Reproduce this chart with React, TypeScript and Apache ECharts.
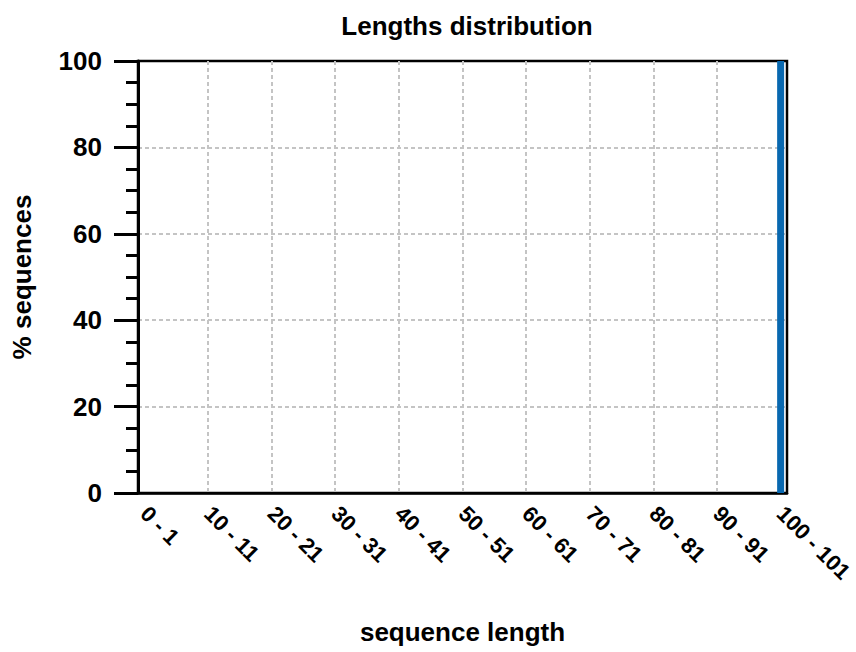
import React, { useEffect, useRef } from "react";
import * as echarts from "echarts";

const categories: string[] = Array.from({ length: 101 }, (_, i) => `${i} - ${i + 1}`);
const percentValues: number[] = [
  0, 0, 0, 0, 0, 0, 0, 0, 0, 0,
  0, 0, 0, 0, 0, 0, 0, 0, 0, 0,
  0, 0, 0, 0, 0, 0, 0, 0, 0, 0,
  0, 0, 0, 0, 0, 0, 0, 0, 0, 0,
  0, 0, 0, 0, 0, 0, 0, 0, 0, 0,
  0, 0, 0, 0, 0, 0, 0, 0, 0, 0,
  0, 0, 0, 0, 0, 0, 0, 0, 0, 0,
  0, 0, 0, 0, 0, 0, 0, 0, 0, 0,
  0, 0, 0, 0, 0, 0, 0, 0, 0, 0,
  0, 0, 0, 0, 0, 0, 0, 0, 0, 0,
  100,
];
const xTickIndices: number[] = [0, 10, 20, 30, 40, 50, 60, 70, 80, 90, 100];
const yTicks: number[] = [0, 20, 40, 60, 80, 100];

const FONT = "'Liberation Sans', Arial, Helvetica, sans-serif";

export default function App() {
  const ref = useRef<HTMLDivElement>(null);
  useEffect(() => {
    if (!ref.current) return;
    const chart = echarts.init(ref.current, null, { renderer: "svg" });
    const dashed = { color: "#c4c4c4", width: 2, type: [4, 3] as number[] };
    chart.setOption({
      animation: false,
      backgroundColor: "#ffffff",
      title: {
        text: "Lengths distribution",
        left: 462,
        textAlign: "center",
        top: 8,
        textStyle: { fontFamily: FONT, fontWeight: "bold", fontSize: 26, color: "#000" },
      },
      grid: {
        left: 138,
        right: 69,
        top: 61,
        bottom: 159,
        containLabel: false,
        outerBoundsMode: "none",
        show: true,
        borderColor: "#000",
        borderWidth: 2.5,
        backgroundColor: "transparent",
      },
      xAxis: {
        type: "value",
        min: -1,
        max: 101,
        name: "sequence length",
        nameLocation: "middle",
        nameGap: 126,
        nameTextStyle: { fontFamily: FONT, fontWeight: "bold", fontSize: 26, color: "#000" },
        axisLine: { show: true, onZero: false, lineStyle: { color: "#000", width: 2.5 } },
        axisTick: { show: false, customValues: xTickIndices },
        axisLabel: {
          customValues: xTickIndices,
          rotate: -45,
          margin: 17,
          fontFamily: FONT,
          fontWeight: "bold",
          fontSize: 22,
          color: "#000",
          hideOverlap: false,
          formatter: (v: number) => categories[Math.round(v)] ?? "",
        },
        splitLine: { show: true, showMinLine: false, showMaxLine: false, lineStyle: dashed },
      },
      yAxis: {
        type: "value",
        min: 0,
        max: 100,
        interval: 20,
        name: "% sequences",
        nameLocation: "middle",
        nameGap: 103,
        nameTextStyle: { fontFamily: FONT, fontWeight: "bold", fontSize: 26, color: "#000" },
        axisLine: { show: true, onZero: false, lineStyle: { color: "#000", width: 3 } },
        axisTick: { show: true, inside: false, length: 24, lineStyle: { color: "#000", width: 3 } },
        minorTick: { show: true, splitNumber: 4, length: 12, lineStyle: { color: "#000", width: 3 } },
        axisLabel: {
          margin: 36,
          fontFamily: FONT,
          fontWeight: "bold",
          fontSize: 26,
          color: "#000",
          customValues: yTicks,
        },
        splitLine: { show: true, showMinLine: false, showMaxLine: false, lineStyle: dashed },
      },
      series: [
        {
          type: "bar",
          barWidth: 7,
          itemStyle: { color: "#0868b0" },
          data: percentValues.map((v, i) => [i, v]),
        },
      ],
    });
    return () => chart.dispose();
  }, []);
  return (
    <div
      ref={ref}
      style={{ position: "fixed", left: 0, top: 0, width: 856, height: 652 }}
    />
  );
}
